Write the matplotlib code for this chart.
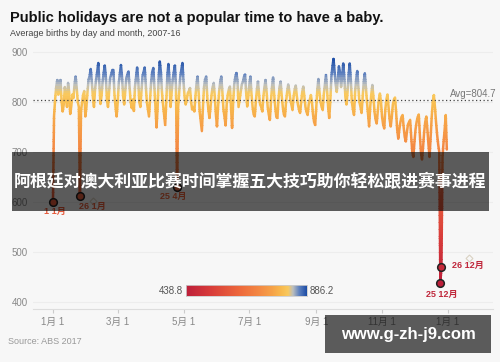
import numpy as np
import matplotlib.pyplot as plt
from matplotlib.colors import LinearSegmentedColormap, Normalize
from matplotlib.patches import Rectangle

plt.rcParams['font.family'] = ['Liberation Sans', 'Noto Sans CJK SC', 'DejaVu Sans']

# average births per calendar day (leap-year calendar, Jan 1 = day 0)
births = [
    600, 772, 805, 830, 844, 815, 838, 844, 800, 781,
    795, 830, 812, 790, 838, 820, 776, 792, 815, 808,
    835, 851, 828, 800, 790, 612, 782, 800, 815, 822,
    771, 790, 820, 845, 852, 866, 840, 810, 790, 825,
    845, 860, 878, 835, 796, 812, 840, 858, 873, 850,
    805, 790, 820, 848, 855, 864, 864, 815, 790, 771,
    800, 838, 856, 874, 850, 812, 795, 822, 848, 855,
    861, 830, 800, 788, 805, 782, 830, 850, 869, 845,
    800, 790, 820, 852, 860, 869, 835, 800, 785, 771,
    805, 840, 860, 868, 830, 790, 749, 790, 850, 881,
    860, 820, 795, 775, 754, 800, 852, 876, 845, 790,
    820, 845, 860, 873, 830, 630, 790, 820, 850, 865,
    878, 840, 810, 795, 805, 818, 822, 828, 800, 785,
    790, 781, 810, 835, 851, 820, 780, 760, 742, 790,
    830, 845, 851, 810, 785, 768, 790, 815, 830, 838,
    810, 775, 751, 790, 820, 840, 851, 820, 785, 770,
    753, 795, 815, 825, 831, 790, 748, 800, 835, 850,
    858, 842, 790, 805, 820, 835, 840, 850, 855, 820,
    791, 810, 835, 851, 815, 790, 775, 771, 800, 825,
    841, 815, 795, 790, 781, 810, 830, 844, 820, 790,
    775, 764, 800, 830, 849, 815, 790, 770, 768, 805,
    830, 841, 812, 790, 775, 771, 800, 820, 835, 822,
    805, 795, 784, 810, 825, 833, 812, 795, 785, 778,
    800, 820, 831, 810, 790, 780, 774, 795, 805, 814,
    800, 775, 760, 754, 790, 825, 846, 820, 800, 790,
    784, 815, 835, 854, 825, 790, 768, 800, 850, 870,
    886.2, 860, 835, 820, 845, 871, 860, 830, 850, 877,
    850, 810, 795, 820, 855, 877, 845, 800, 785, 774,
    820, 845, 862, 830, 800, 790, 778, 810, 840, 857,
    830, 800, 775, 751, 790, 815, 834, 810, 780, 765,
    757, 780, 805, 817, 800, 770, 755, 747, 785, 805,
    815, 790, 765, 751, 770, 795, 805, 809, 780, 745,
    727, 745, 760, 770, 774, 750, 730, 721, 740, 755,
    760, 764, 730, 700, 690, 720, 745, 760, 770, 775,
    735, 700, 685, 710, 740, 760, 771, 745, 715, 690,
    730, 770, 800, 814, 790, 760, 735, 715, 700, 438.8,
    470, 690, 720, 745, 774, 705,
]
assert len(births) == 366
day = np.arange(len(births))
births = np.array(births)

avg_births = 804.7
holiday_days = [0, 25, 115, 359, 360]
holiday_labels = ['1 1月', '26 1月', '25 4月', '25 12月', '26 12月']
ghost_days = [36.7, 385.8]
ghost_vals = [602, 489]
tick_days = [0, 60, 121, 182, 244, 305, 366]
tick_labels = ['1月 1', '3月 1', '5月 1', '7月 1', '9月 1', '11月 1', '1月 1']

bg = '#f7f7f7'
cmap = LinearSegmentedColormap.from_list('births', [
    (0.00, '#bd1f3a'), (0.20, '#d83c3a'), (0.45, '#ee6a3c'),
    (0.62, '#f48c44'), (0.72, '#f6a448'), (0.79, '#f8ba4e'),
    (0.845, '#f9c95e'), (0.885, '#bcbfbe'), (0.935, '#6284c0'),
    (1.00, '#1c4da6')])
vmin, vmax = births.min(), births.max()
norm = Normalize(vmin, vmax)

fig = plt.figure(figsize=(5, 3.62), dpi=100, facecolor=bg)
ax = fig.add_axes([33/500, 1-309/362, 460/500, (309-46)/362], facecolor=bg)
ax.set_xlim(-18.5, 407.8)
ax.set_ylim(386, 912)

# line coloured by value: draw it once per horizontal band, clipped to the band
levels = np.linspace(vmin - 5, vmax + 5, 100)
for lo, hi in zip(levels[:-1], levels[1:]):
    ln, = ax.plot(day, births, color=cmap(norm((lo+hi)/2)), lw=1.8,
                  solid_joinstyle='round', solid_capstyle='round', zorder=3)
    ln.set_clip_path(Rectangle((-50, lo), 500, hi - lo + 0.8, transform=ax.transData))

ax.axhline(avg_births, color='#444444', lw=0.9, ls=(0, (1, 2)), zorder=4)
fig.text(450/500, 1-94/362, 'Avg=804.7', fontsize=7, color='#777777', va='center')

# holiday markers (label offsets in pixels)
offsets = [(2, -9), (12, -10), (-4, -9), (1, -12), (11, 2)]
aligns = ['center', 'center', 'center', 'center', 'left']
for d, lab, (dx, dy), ha in zip(holiday_days, holiday_labels, offsets, aligns):
    v = births[d]
    c = cmap(norm(v))
    ax.plot(d, v, 'o', ms=5.5, mfc=c, mec='#222222', mew=1.1, zorder=5)
    txt_c = '#c0283c' if d > 300 else c
    ax.annotate(lab, (d, v), xytext=(dx*0.72, dy*0.72), textcoords='offset points',
                ha=ha, va='center', fontsize=6.5, fontweight='bold', color=txt_c, zorder=5)
ax.plot(ghost_days, ghost_vals, 'D', ms=3.5, mfc='none', mec='#d9d2c2', mew=0.8,
        clip_on=False, zorder=4)

ax.set_yticks([400, 500, 600, 700, 800, 900])
ax.grid(axis='y', color='#ededed', lw=0.8)
ax.set_axisbelow(True)
ax.set_xticks(tick_days)
ax.set_xticklabels(tick_labels)
ax.tick_params(axis='y', length=0, labelsize=7, labelcolor='#888888', pad=4)
ax.tick_params(axis='x', length=3, color='#cccccc', labelsize=7, labelcolor='#888888', pad=3)
for s in ['top', 'right', 'left']:
    ax.spines[s].set_visible(False)
ax.spines['bottom'].set_color('#dddddd')

# colour scale
cax = fig.add_axes([186/500, 1-296/362, 121/500, 11/362])
cax.imshow(np.linspace(0, 1, 256)[None, :], cmap=cmap, aspect='auto')
cax.set_xticks([])
cax.set_yticks([])
for s in cax.spines.values():
    s.set_color('#cccccc')
    s.set_linewidth(0.6)
fig.text(183/500, 1-291/362, f'{vmin:.1f}', fontsize=7, color='#555555', ha='right', va='center')
fig.text(310/500, 1-291/362, f'{vmax:.1f}', fontsize=7, color='#555555', ha='left', va='center')

fig.text(10/500, 1-18/362, 'Public holidays are not a popular time to have a baby.',
         fontsize=10.5, fontweight='bold', color='#111111', va='center')
fig.text(10/500, 1-33/362, 'Average births by day and month, 2007-16',
         fontsize=6.5, color='#444444', va='center')
fig.text(8/500, 1-342/362, 'Source: ABS 2017', fontsize=6.5, color='#999999', va='center')

# overlay banner and watermark
fig.add_artist(Rectangle((12/500, 1-211/362), 477/500, 59/362, transform=fig.transFigure,
                         facecolor='black', alpha=0.63, lw=0, zorder=10))
fig.text(250/500, 1-182/362, '阿根廷对澳大利亚比赛时间掌握五大技巧助你轻松跟进赛事进程',
         fontsize=12.2, fontweight='bold', color='white', ha='center', va='center',
         family=['Noto Sans CJK SC', 'DejaVu Sans'], zorder=11)
fig.add_artist(Rectangle((325/500, 1-353/362), 166/500, 38/362, transform=fig.transFigure,
                         facecolor='black', alpha=0.63, lw=0, zorder=10))
fig.text(408/500, 1-334/362, 'www.g-zh-j9.com', fontsize=12, fontweight='bold',
         color='white', ha='center', va='center', zorder=11)

fig.savefig('out.png', dpi=100, facecolor=bg)
